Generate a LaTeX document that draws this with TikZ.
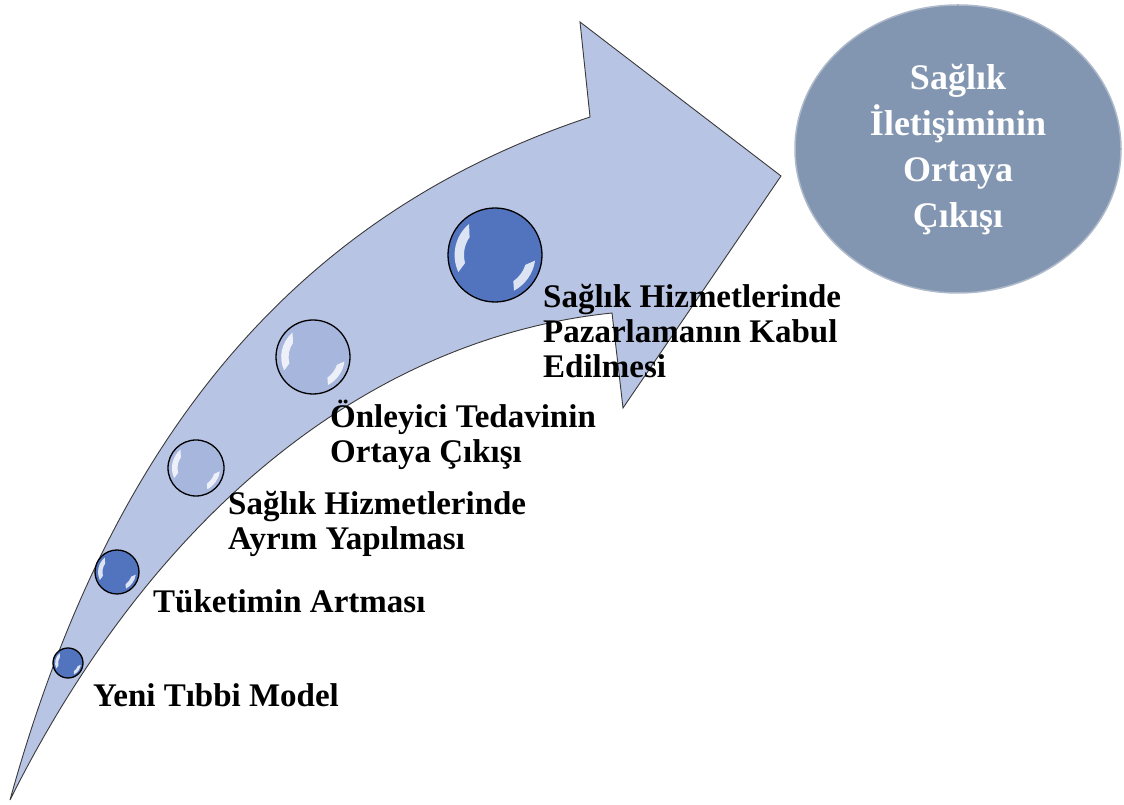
\documentclass[tikz,border=0pt]{standalone}
\usepackage{fontspec}
\setmainfont{Liberation Serif}
\usetikzlibrary{calc,shapes.geometric}

\definecolor{arrowfill}{HTML}{B8C4E3}
\definecolor{arrowline}{HTML}{3A3A3A}
\definecolor{darkcore}{HTML}{5274BE}
\definecolor{darkrim}{HTML}{93ACDF}
\definecolor{lightcore}{HTML}{A6B6DD}
\definecolor{lightrim}{HTML}{D2DBF1}
\definecolor{goalcore}{HTML}{8296B1}
\definecolor{goaledge}{HTML}{6F839F}
\definecolor{goalrim}{HTML}{AEB9CA}

% glassy ball fills: flat core, brighter rim
\pgfdeclareradialshading{glassdark}{\pgfpoint{0bp}{0bp}}{%
  color(0bp)=(darkcore); color(30bp)=(darkcore); color(50bp)=(darkrim)}
\pgfdeclareradialshading{glasslight}{\pgfpoint{0bp}{0bp}}{%
  color(0bp)=(lightcore); color(30bp)=(lightcore); color(50bp)=(lightrim)}
% goal ellipse: slightly darker towards its border
\pgfdeclareradialshading{goalshade}{\pgfpoint{0bp}{0bp}}{%
  color(0bp)=(goalcore); color(40bp)=(goalcore); color(50bp)=(goaledge)}

\tikzset{
  bigarrow/.style={fill=arrowfill, draw=arrowline, line width=0.9pt, line join=miter},
  ball/.style={circle, draw=black, line width=1.3pt, inner sep=0pt},
  shine/.style={fill=white, opacity=0.8},
  lbl/.style={font=\bfseries\fontsize{33}{35}\selectfont, anchor=base west, inner sep=0pt},
  goal/.style={ellipse, minimum width=326pt, minimum height=288pt, inner sep=0pt,
    shading=goalshade, draw=goalrim, line width=1.5pt, text=white, align=center,
    font=\bfseries\fontsize{36}{46}\selectfont}
}

% name, x, y, radius, shading
\newcommand\glassball[5]{%
  \node[ball, minimum size={2*#4pt}, shading=#5] (#1) at (#2,#3) {};
  \fill[shine] ($(#1.center)+(130:{0.86*#4pt})$) arc[start angle=130, end angle=205, radius={0.86*#4pt}]
    -- ($(#1.center)+(195:{0.66*#4pt})$) arc[start angle=195, end angle=145, radius={0.66*#4pt}] -- cycle;
  \fill[shine] ($(#1.center)+(-8:{0.86*#4pt})$) arc[start angle=-8, end angle=-62, radius={0.86*#4pt}]
    -- ($(#1.center)+(-55:{0.68*#4pt})$) arc[start angle=-55, end angle=-18, radius={0.68*#4pt}] -- cycle;
}

\begin{document}
\begin{tikzpicture}[x=1pt, y=1pt]
\useasboundingbox (0,0) rectangle (1124,805);

% curved block arrow: outer edge, head, inner edge
\path[bigarrow]
  (10,5) .. controls (115,385) and (310,595) .. (590,688)
  -- (580,783) -- (781,629) -- (623,397) -- (612,492)
  .. controls (380,468) and (160,305) .. (10,5) -- cycle;

% milestones along the arrow
\glassball{b1}{68}{142}{15}{glassdark}
\glassball{b2}{117}{233}{22}{glassdark}
\glassball{b3}{196}{337}{28}{glasslight}
\glassball{b4}{313}{448}{37}{glasslight}
\glassball{b5}{495}{550}{47}{glassdark}

\node[lbl] (t1) at (93,98) {Yeni Tıbbi Model};
\node[lbl] (t2) at (153,192) {Tüketimin Artması};
\node[lbl] (t3) at (228,290) {\begin{tabular}[t]{@{}l@{}}Sağlık Hizmetlerinde\\Ayrım Yapılması\end{tabular}};
\node[lbl] (t4) at (330,377) {\begin{tabular}[t]{@{}l@{}}Önleyici Tedavinin\\Ortaya Çıkışı\end{tabular}};
\node[lbl] (t5) at (543,497) {\begin{tabular}[t]{@{}l@{}}Sağlık Hizmetlerinde\\Pazarlamanın Kabul\\Edilmesi\end{tabular}};

% outcome
\node[goal] (g) at (958,656) {\raisebox{-3pt}{\begin{tabular}{@{}c@{}}Sağlık\\İletişiminin\\Ortaya\\Çıkışı\end{tabular}}};
\end{tikzpicture}
\end{document}
